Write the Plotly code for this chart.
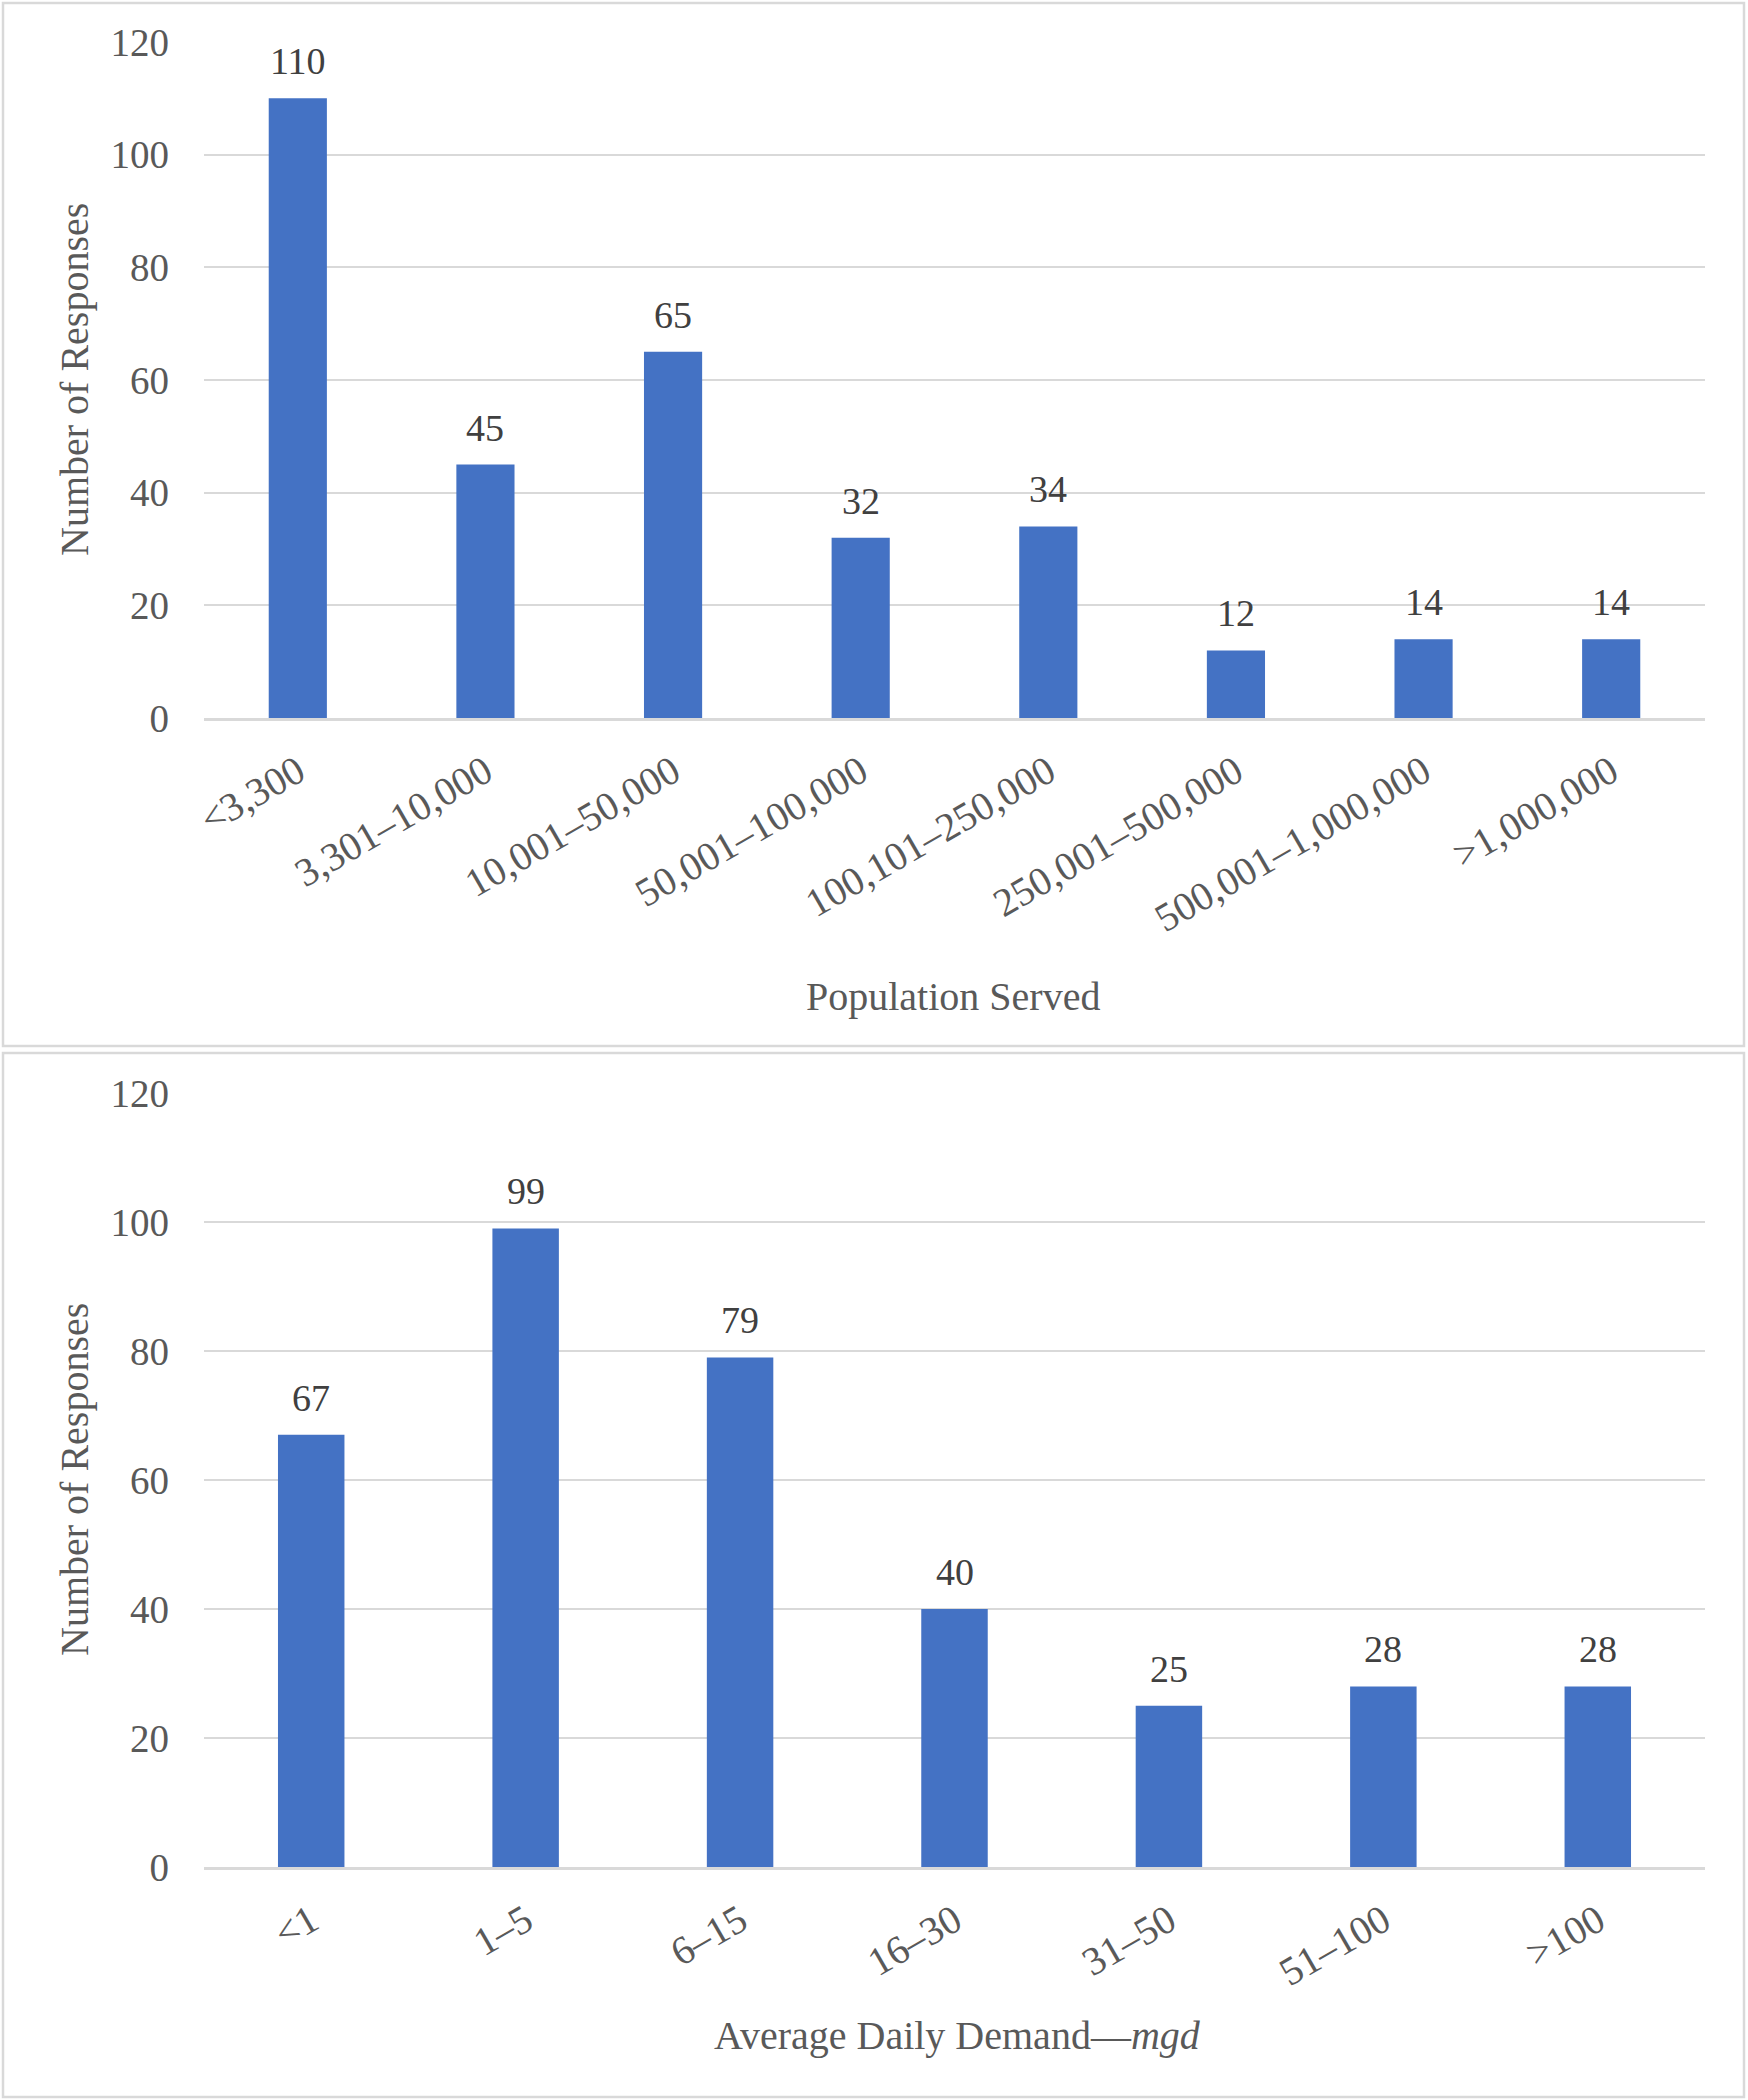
import plotly.graph_objects as go

# Data
pop_categories = ["<3,300", "3,301–10,000", "10,001–50,000", "50,001–100,000",
                  "100,101–250,000", "250,001–500,000", "500,001–1,000,000", ">1,000,000"]
pop_values = [110, 45, 65, 32, 34, 12, 14, 14]

demand_categories = ["<1", "1–5", "6–15", "16–30", "31–50", "51–100", ">100"]
demand_values = [67, 99, 79, 40, 25, 28, 28]

y_ticks = [0, 20, 40, 60, 80, 100, 120]

W, H = 1748, 2100
FONT = "Liberation Serif"
TXT = "#595959"
LBL = "#404040"
GRID = "#D9D9D9"
BAR = "#4472C4"


def px_x(v):
    return v / W


def px_y(v):
    return 1 - v / H


fig = go.Figure()
fig.add_trace(go.Bar(x=pop_categories, y=pop_values, marker=dict(color=BAR, line=dict(width=0)),
                     xaxis="x", yaxis="y", showlegend=False, hoverinfo="skip"))
fig.add_trace(go.Bar(x=demand_categories, y=demand_values, marker=dict(color=BAR, line=dict(width=0)),
                     xaxis="x2", yaxis="y2", showlegend=False, hoverinfo="skip"))

annotations = []
for c, v in zip(pop_categories, pop_values):
    annotations.append(dict(x=c, y=v, xref="x", yref="y", text=str(v), showarrow=False,
                            yanchor="bottom", yshift=14, font=dict(family=FONT, size=38, color=LBL)))
for c, v in zip(demand_categories, demand_values):
    annotations.append(dict(x=c, y=v, xref="x2", yref="y2", text=str(v), showarrow=False,
                            yanchor="bottom", yshift=14, font=dict(family=FONT, size=38, color=LBL)))

title_font = dict(family=FONT, size=40, color=TXT)
annotations += [
    dict(x=px_x(74), y=px_y(380), xref="paper", yref="paper", text="Number of Responses",
         textangle=-90, showarrow=False, font=title_font, xanchor="center", yanchor="middle"),
    dict(x=px_x(74), y=px_y(1480), xref="paper", yref="paper", text="Number of Responses",
         textangle=-90, showarrow=False, font=title_font, xanchor="center", yanchor="middle"),
    dict(x=px_x(953), y=px_y(996), xref="paper", yref="paper", text="Population Served",
         showarrow=False, font=title_font, xanchor="center", yanchor="middle"),
    dict(x=px_x(957), y=px_y(2035), xref="paper", yref="paper", text="Average Daily Demand—<i>mgd</i>",
         showarrow=False, font=title_font, xanchor="center", yanchor="middle"),
]

shapes = [
    dict(type="rect", xref="paper", yref="paper", x0=px_x(3), x1=px_x(1744), y0=px_y(1046), y1=px_y(3),
         line=dict(color=GRID, width=2.5)),
    dict(type="rect", xref="paper", yref="paper", x0=px_x(3), x1=px_x(1744), y0=px_y(2097), y1=px_y(1053),
         line=dict(color=GRID, width=2.5)),
]

xtick_font = dict(family=FONT, size=40, color=TXT)
ytick_font = dict(family=FONT, size=39, color=TXT)
xcommon = dict(showgrid=False, zeroline=False, showline=True, linecolor=GRID, linewidth=2.5,
               ticks="", tickangle=-30, tickfont=xtick_font, ticklabelstandoff=12, fixedrange=True,
               automargin=False)
ycommon = dict(range=[0, 120], tickvals=y_ticks, showgrid=True, gridcolor=GRID, gridwidth=2,
               zeroline=False, showline=False, ticks="", tickfont=ytick_font, ticklabelstandoff=34,
               fixedrange=True, automargin=False)

fig.update_layout(
    width=W, height=H,
    margin=dict(l=0, r=0, t=0, b=0, pad=0, autoexpand=False),
    paper_bgcolor="white", plot_bgcolor="white",
    bargap=0.69,
    showlegend=False,
    font=dict(family=FONT, color=TXT),
    xaxis=dict(domain=[px_x(204), px_x(1705)], anchor="y", **xcommon),
    yaxis=dict(domain=[px_y(718), px_y(42)], anchor="x", **ycommon),
    xaxis2=dict(domain=[px_x(204), px_x(1705)], anchor="y2", **xcommon),
    yaxis2=dict(domain=[px_y(1867), px_y(1093)], anchor="x2", **ycommon),
    annotations=annotations,
    shapes=shapes,
)

fig.write_html(
    "out.html",
    config={"displayModeBar": False},
    post_script="document.body.style.margin='0';document.body.style.padding='0';"
                "document.documentElement.style.overflow='hidden';",
)
